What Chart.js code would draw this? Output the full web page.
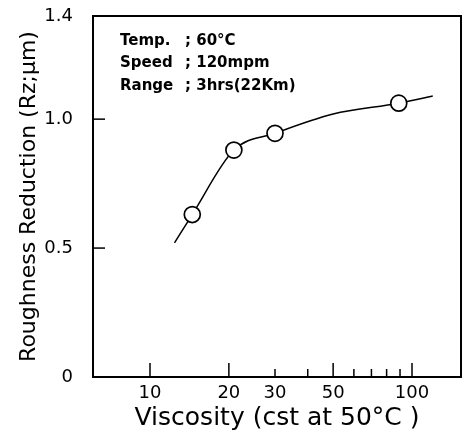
<!DOCTYPE html>
<html>
<head>
<meta charset="utf-8">
<script src="https://cdn.jsdelivr.net/npm/chart.js@4.4.1/dist/chart.umd.min.js"></script>
<style>
  html, body { margin: 0; padding: 0; background: #fff; overflow: hidden; }
  #wrap { position: relative; width: 463px; height: 434px; }
  canvas { display: block; }
</style>
</head>
<body>
<div id="wrap"><canvas id="chart"></canvas></div>
<script>
// Datos
const viscosity = [14.5, 20.9, 30, 89];
const roughness = [0.63, 0.88, 0.945, 1.062];

// Curva ajustada dibujada a mano en el original
const curveX = [12.4, 14.5, 20.9, 30, 50, 89, 120];
const curveY = [0.52, 0.63, 0.88, 0.945, 1.02, 1.062, 1.09];

const xTicks = [10, 20, 30, 40, 50, 60, 70, 80, 90, 100];
const xLabels = [10, 20, 30, 50, 100];
const xLongTicks = [10, 20, 50, 100];
const yTicks = [0, 0.5, 1.0, 1.4];
const yTickLabels = ['0', '0.5', '1.0', '1.4'];
const yInnerTicks = [0.5, 1.0];

const conditions = ['Temp.', 'Speed', 'Range'];
const conditionValues = ['; 60°C', '; 120mpm', '; 3hrs(22Km)'];

const FONT = '"DejaVu Sans", sans-serif';

// Marco, ticks hacia adentro y texto de condiciones
const framePlugin = {
    id: 'frame',
    afterDraw(chart) {
        const { ctx, chartArea: a, scales } = chart;
        ctx.save();
        ctx.strokeStyle = '#000';
        ctx.lineWidth = 2;
        ctx.strokeRect(a.left, a.top, a.right - a.left, a.bottom - a.top);

        ctx.lineWidth = 1.5;
        xTicks.forEach(v => {
            const px = scales.x.getPixelForValue(v);
            const len = xLongTicks.includes(v) ? 14 : 8;
            ctx.beginPath();
            ctx.moveTo(px, a.bottom);
            ctx.lineTo(px, a.bottom - len);
            ctx.stroke();
        });
        yInnerTicks.forEach(v => {
            const py = scales.y.getPixelForValue(v);
            ctx.beginPath();
            ctx.moveTo(a.left, py);
            ctx.lineTo(a.left + 12, py);
            ctx.stroke();
        });

        ctx.fillStyle = '#000';
        ctx.font = '600 15px ' + FONT;
        ctx.textBaseline = 'middle';
        conditions.forEach((c, i) => {
            const y = a.top + 25 + i * 22.5;
            ctx.fillText(c, a.left + 27, y);
            ctx.fillText(conditionValues[i], a.left + 92, y);
        });
        ctx.restore();
    }
};

const ctx = document.getElementById('chart').getContext('2d');
new Chart(ctx, {
    type: 'scatter',
    data: {
        datasets: [
            {
                label: 'Data',
                data: viscosity.map((v, i) => ({ x: v, y: roughness[i] })),
                pointRadius: 8,
                pointHoverRadius: 8,
                pointBorderWidth: 1.7,
                pointBorderColor: '#000',
                pointBackgroundColor: '#fff',
                showLine: false,
                order: 1
            },
            {
                label: 'Curve',
                data: curveX.map((v, i) => ({ x: v, y: curveY[i] })),
                showLine: true,
                pointRadius: 0,
                borderColor: '#000',
                borderWidth: 1.5,
                cubicInterpolationMode: 'monotone',
                order: 2
            }
        ]
    },
    options: {
        responsive: true,
        maintainAspectRatio: false,
        animation: false,
        layout: { autoPadding: false, padding: { top: 16, right: 2, left: 0, bottom: 0 } },
        plugins: {
            legend: { display: false },
            tooltip: { enabled: false }
        },
        scales: {
            x: {
                type: 'logarithmic',
                min: 6.06,
                max: 153.8,
                afterBuildTicks: scale => { scale.ticks = xTicks.map(v => ({ value: v })); },
                afterFit: scale => {
                    scale.height = 57;
                    scale.paddingLeft = 0;
                    scale.paddingRight = 0;
                },
                grid: { display: false, drawTicks: false },
                border: { display: false },
                ticks: {
                    autoSkip: false,
                    maxRotation: 0,
                    padding: 6,
                    color: '#000',
                    font: { family: FONT, size: 18 },
                    callback: v => xLabels.includes(v) ? String(v) : ''
                },
                title: {
                    display: true,
                    text: 'Viscosity (cst at 50°C )',
                    color: '#000',
                    padding: { top: 4, bottom: 1 },
                    font: { family: FONT, size: 25 }
                }
            },
            y: {
                min: 0,
                max: 1.4,
                afterBuildTicks: scale => { scale.ticks = yTicks.map(v => ({ value: v })); },
                afterFit: scale => {
                    scale.width = 93;
                    scale.paddingTop = 0;
                    scale.paddingBottom = 0;
                },
                grid: { display: false, drawTicks: false },
                border: { display: false },
                ticks: {
                    padding: 20,
                    color: '#000',
                    font: { family: FONT, size: 18 },
                    callback: v => yTickLabels[yTicks.indexOf(v)]
                },
                title: {
                    display: true,
                    text: 'Roughness Reduction (Rz;μm)',
                    color: '#000',
                    padding: { top: 16, bottom: 4 },
                    font: { family: FONT, size: 22 }
                }
            }
        }
    },
    plugins: [framePlugin]
});
</script>
</body>
</html>
